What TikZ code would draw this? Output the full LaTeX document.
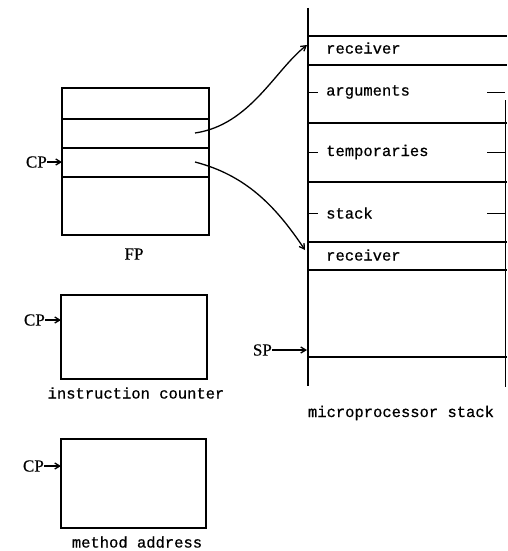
\documentclass[tikz,border=0pt]{standalone}
\usepackage{fontspec}
\setmainfont{Liberation Serif}
\newfontfamily\labfont[FakeBold=0.6]{Liberation Mono}
\newfontfamily\regfont[FakeBold=0.3]{Liberation Serif}
\usetikzlibrary{arrows.meta}
\begin{document}
\begin{tikzpicture}[x=1pt,y=-1pt,
  line/.style={line width=1.3pt},
  thin line/.style={line width=1pt},
  ptr/.style={line width=1.3pt,-{Straight Barb[length=5pt,width=6pt]}},
  lab/.style={font=\labfont\fontsize{15.5}{18}\selectfont,inner sep=0pt},
  reg/.style={font=\regfont\fontsize{17}{20}\selectfont,inner sep=0pt},
  box/.style={draw,line width=1.4pt}]
\useasboundingbox (0,0) rectangle (507,551);
% FP box
\draw[box] (62,88) rectangle (209,235);
\foreach \y in {119,148,177} \draw[line] (62,\y) -- (209,\y);
\node[reg] (fp) at (134,254) {FP};
\node[reg,anchor=east] (cp1) at (47,162) {CP};
\coordinate (cp1t) at (62,162);
\draw[ptr] (cp1) -- (cp1t);
% instruction counter
\draw[box] (61,295) rectangle (207,379);
\node[lab] (ic) at (136,393) {instruction counter};
\node[reg,anchor=east] (cp2) at (45,320) {CP};
\coordinate (cp2t) at (61,320);
\draw[ptr] (cp2) -- (cp2t);
% method address
\draw[box] (61,439) rectangle (206,528);
\node[lab] (ma) at (137,542) {method address};
\node[reg,anchor=east] (cp3) at (44,466) {CP};
\coordinate (cp3t) at (61,466);
\draw[ptr] (cp3) -- (cp3t);
% stack
\draw[line] (308,8) -- (308,386);
\draw[thin line] (505,100) -- (505,387);
\foreach \y in {36,65,123,182,242,270,357} \draw[line] (308,\y) -- (507,\y);
\node[lab,anchor=west] (r1) at (326,48) {receiver};
\node[lab,anchor=west] (args) at (326,92) {arguments};
\node[lab,anchor=west] (temps) at (326,152) {temporaries};
\node[lab,anchor=west] (stk) at (326,213) {stack};
\node[lab,anchor=west] (r2) at (326,255) {receiver};
\foreach \y in {92,152,213} {
  \draw[thin line] (308,\y) -- (318,\y);
  \draw[thin line] (487,\y) -- (505,\y);
}
\node[lab] (ms) at (401,413) {microprocessor stack};
% SP
\node[reg,anchor=east] (sp) at (272,350) {SP};
\coordinate (spt) at (307,350);
\draw[ptr] (sp) -- (spt);
% curved pointers
\coordinate (a1) at (195,133);
\coordinate (b1) at (307,45);
\coordinate (a2) at (195,162);
\coordinate (b2) at (305,250);
\draw[ptr] (a1) .. controls (250,125) and (275,70) .. (b1);
\draw[ptr] (a2) .. controls (245,175) and (275,205) .. (b2);
\end{tikzpicture}
\end{document}
